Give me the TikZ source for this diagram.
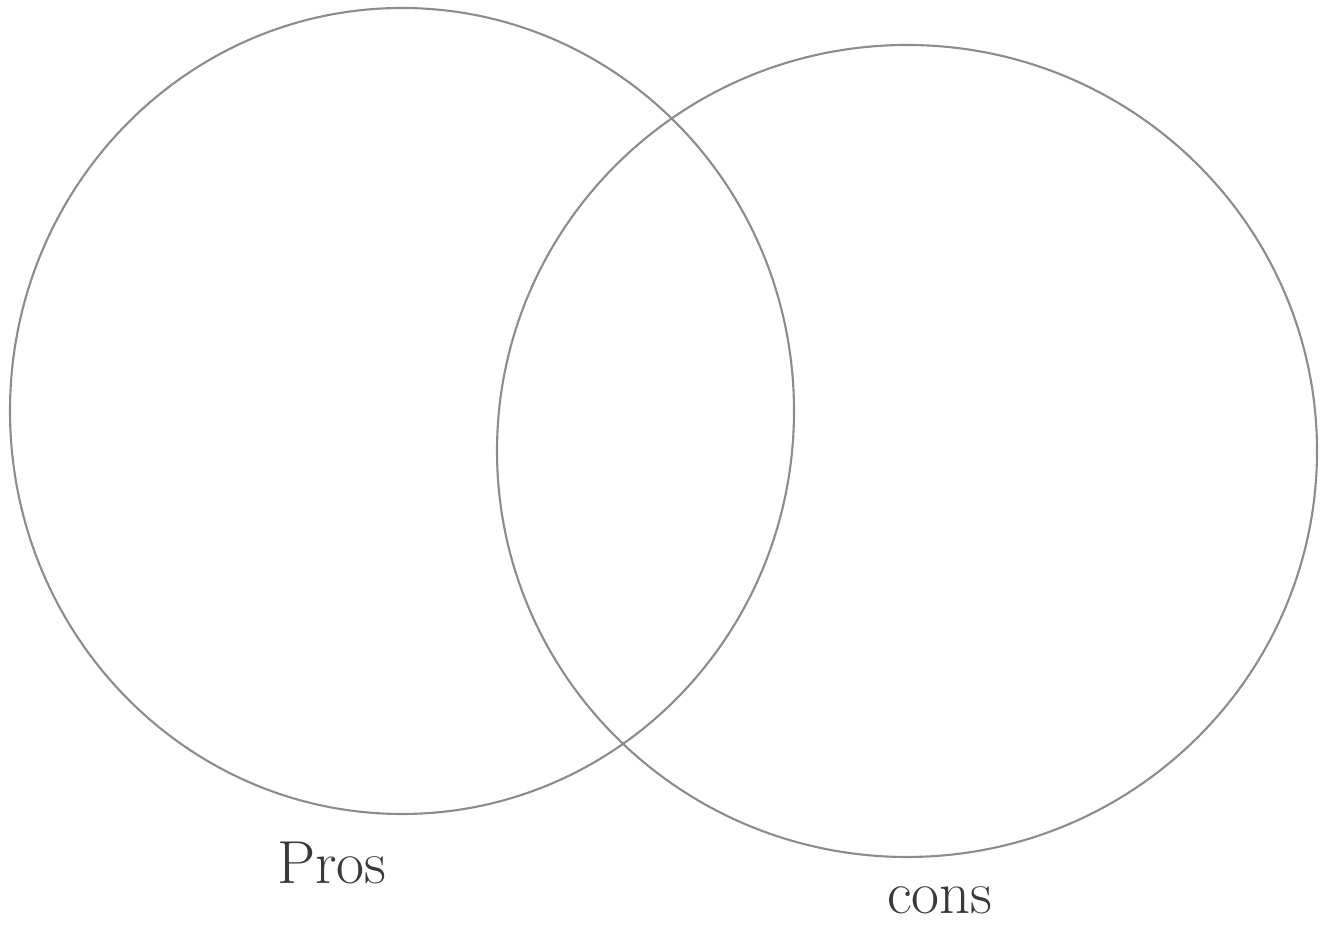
\documentclass[tikz,border=0pt]{standalone}
\usepackage{xcolor}
\usetikzlibrary{positioning,shapes.geometric}
\definecolor{pencil}{HTML}{8C8C8C}
\definecolor{lead}{HTML}{3A3A3A}

\begin{document}
\begin{tikzpicture}[
  setring/.style={draw=pencil,line width=0.6pt,ellipse,inner sep=0pt},
  setname/.style={font=\LARGE,text=lead}
]
  \useasboundingbox (0,0) rectangle (13.23,9.28);
  \node[setring,minimum width=7.84cm,minimum height=8.06cm] (pros) at (4.02,5.17) {};
  \node[setring,minimum width=8.20cm,minimum height=8.12cm] (cons) at (9.07,4.77) {};
  \node[setname] (proslbl) at (3.32,0.65) {Pros};
  \node[setname] (conslbl) at (9.40,0.28) {cons};
\end{tikzpicture}
\end{document}
